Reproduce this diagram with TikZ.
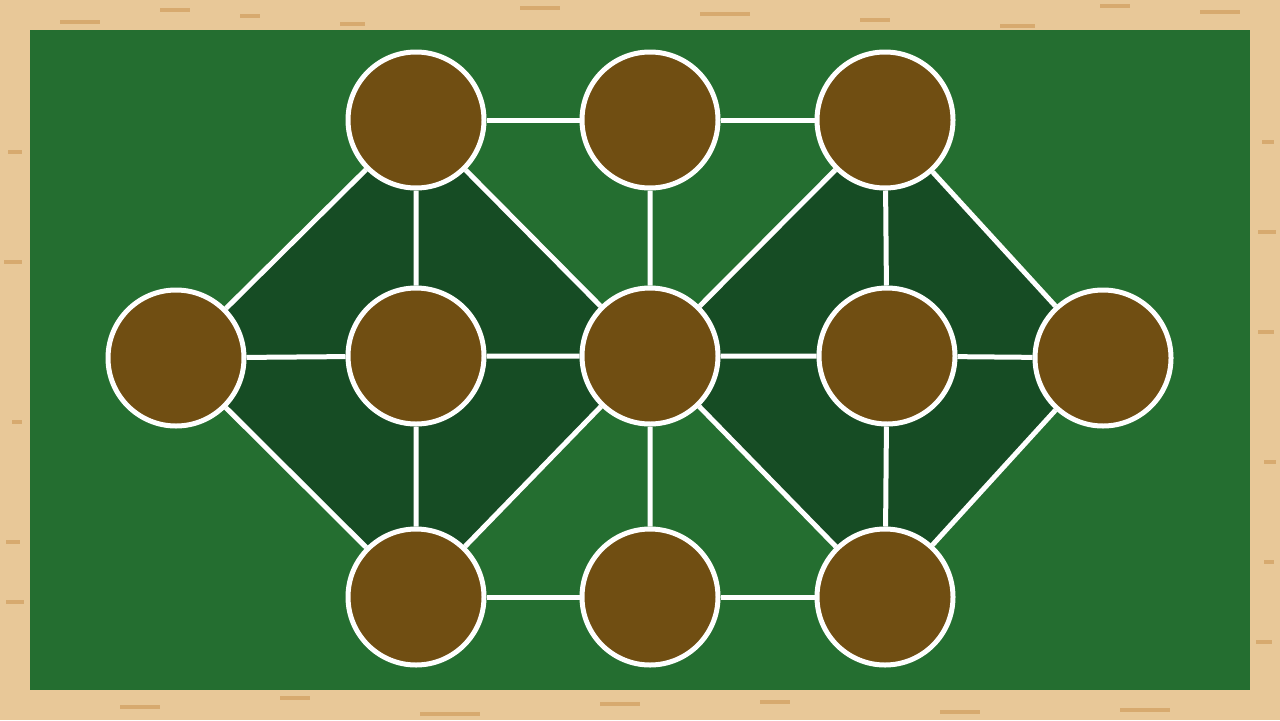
\documentclass[tikz,border=0pt]{standalone}
\usetikzlibrary{backgrounds}
\definecolor{wood}{RGB}{232,200,152}
\definecolor{woodgrain}{RGB}{205,150,85}
\definecolor{board}{RGB}{36,110,48}
\definecolor{shade}{RGB}{22,76,36}
\definecolor{nut}{RGB}{112,78,18}

\begin{document}
\begin{tikzpicture}[x=0.02cm,y=-0.02cm,spot/.style={circle,draw=white,line width=5*0.02cm,fill=nut,minimum size=136*0.02cm,inner sep=0pt},link/.style={draw=white,line width=5*0.02cm},patch/.style={fill=shade}]
\useasboundingbox (0,0) rectangle (1280,720);
\node[spot] (t1) at (416,120) {};
\node[spot] (t2) at (650,120) {};
\node[spot] (t3) at (885,120) {};
\node[spot] (m1) at (176,358) {};
\node[spot] (m2) at (416,356) {};
\node[spot] (m3) at (650,356) {};
\node[spot] (m4) at (887,356) {};
\node[spot] (m5) at (1103,358) {};
\node[spot] (b1) at (416,597) {};
\node[spot] (b2) at (650,597) {};
\node[spot] (b3) at (885,597) {};
\begin{scope}[on background layer]
% frame and board
\fill[wood] (0,0) rectangle (1280,720);
\foreach \x/\y/\w in {60/20/40,160/8/30,240/14/20,340/22/25,520/6/40,700/12/50,860/18/30,1000/24/35,1100/4/30,1200/10/40,8/150/14,4/260/18,12/420/10,6/540/14,6/600/18,1262/140/12,1258/230/18,1258/330/16,1264/460/12,1264/560/10,1256/640/16,120/705/40,280/696/30,420/712/60,600/702/40,760/700/30,940/710/40,1120/708/50}
  \fill[woodgrain,opacity=.6] (\x,\y) rectangle ++(\w,4);
\fill[board] (30,30) rectangle (1250,690);
% darker diamonds
\fill[patch] (m1.center)--(t1.center)--(m3.center)--(b1.center)--cycle;
\fill[patch] (m3.center)--(t3.center)--(m5.center)--(b3.center)--cycle;
% edges
\draw[link] (t1)--(t2) (t2)--(t3) (b1)--(b2) (b2)--(b3);
\draw[link] (m1)--(m2) (m2)--(m3) (m3)--(m4) (m4)--(m5);
\draw[link] (t1)--(m2) (m2)--(b1) (t2)--(m3) (m3)--(b2) (t3)--(m4) (m4)--(b3);
\draw[link] (m1)--(t1) (m1)--(b1) (t1)--(m3) (b1)--(m3) (m3)--(t3) (m3)--(b3) (t3)--(m5) (b3)--(m5);
\end{scope}
\end{tikzpicture}
\end{document}
